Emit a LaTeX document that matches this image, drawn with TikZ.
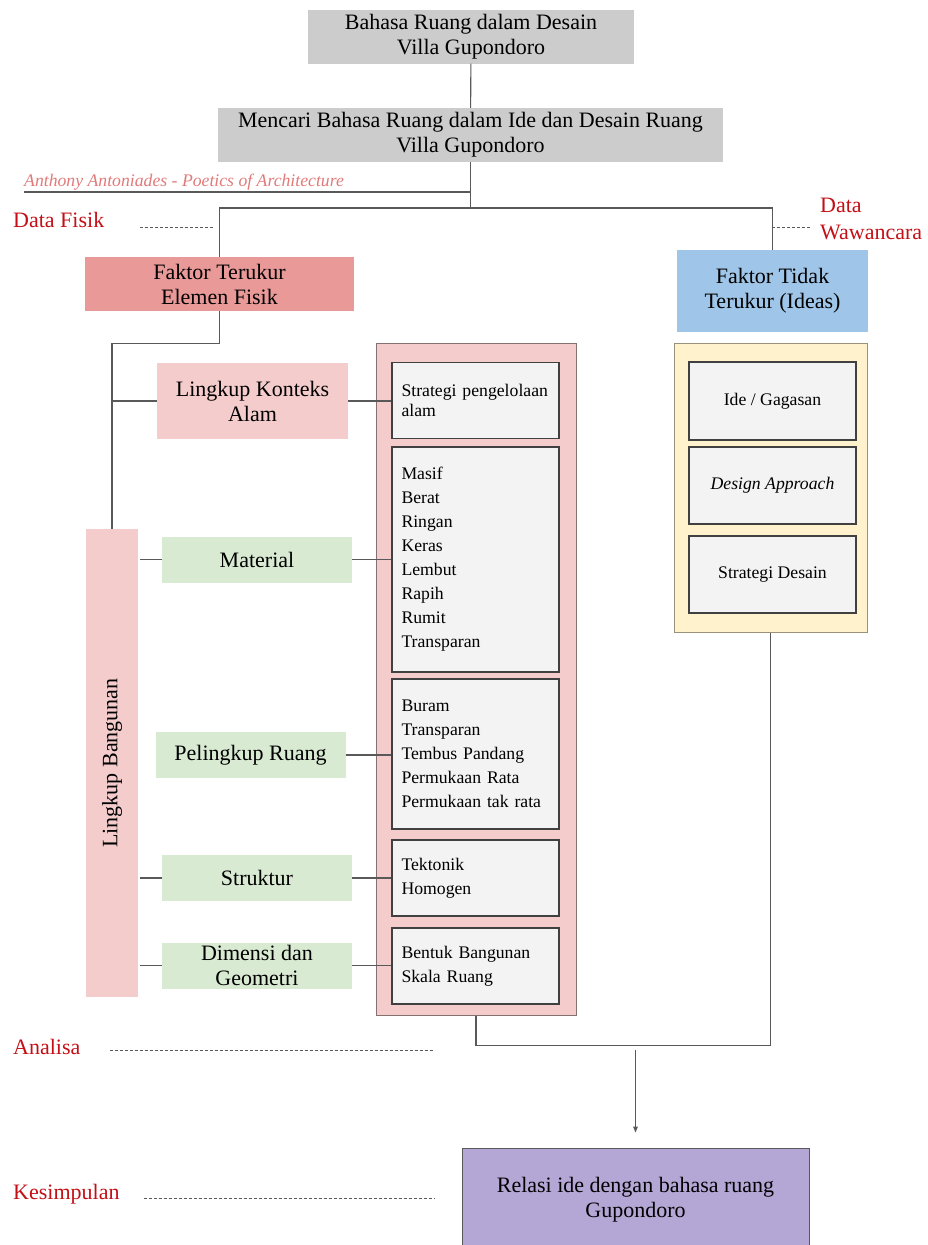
\documentclass[tikz,border=0pt]{standalone}
\usepackage{fontspec}
\setmainfont{Liberation Serif}
\usetikzlibrary{arrows.meta,calc}
\definecolor{titlegray}{HTML}{CCCCCC}
\definecolor{terukurred}{HTML}{EA9999}
\definecolor{softpink}{HTML}{F4CCCC}
\definecolor{softgreen}{HTML}{D9EAD3}
\definecolor{ideablue}{HTML}{9FC5E8}
\definecolor{ideayellow}{HTML}{FFF2CC}
\definecolor{itemgray}{HTML}{F3F3F3}
\definecolor{relasipurple}{HTML}{B4A7D6}
\definecolor{labelred}{HTML}{C40F16}
\definecolor{sourcered}{HTML}{E07A7A}
\definecolor{wiregray}{HTML}{595959}
\begin{document}
\begin{tikzpicture}[x=1pt,y=-1pt,
    big/.style={font=\fontsize{22}{25}\selectfont,align=center,inner sep=0pt},
    small/.style={font=\fontsize{17.7}{24}\selectfont,inner sep=0pt},
    titlebox/.style={big,fill=titlegray},
    branchbox/.style={big,fill=softgreen,minimum width=190,minimum height=46},
    itembox/.style={small,fill=itemgray,draw=black!75,line width=1.4pt,align=left,
      text width=148,inner xsep=9.5pt,minimum height=76},
    ideabox/.style={small,fill=itemgray,draw=black!75,line width=1.4pt,
      minimum width=167,minimum height=77},
    sidelabel/.style={big,text=labelred,anchor=base west,align=left},
    wire/.style={draw=wiregray,line width=1.1pt},
    guide/.style={draw=wiregray,line width=0.8pt,dash pattern=on 3pt off 2pt}]
  \useasboundingbox (0,0) rectangle (928,1245);

  \node[titlebox,minimum width=326,minimum height=54] (judul) at (471,36.5)
    {Bahasa Ruang dalam Desain\\Villa Gupondoro};
  \node[titlebox,minimum width=505,minimum height=54] (cari) at (470.5,135)
    {Mencari Bahasa Ruang dalam Ide dan Desain Ruang\\Villa Gupondoro};
  \node[small,text=sourcered,anchor=base west,font=\fontsize{17.7}{20}\selectfont\itshape]
    (antoniades) at (24,186) {Anthony Antoniades - Poetics of Architecture};

  \node[sidelabel] (fisik) at (13,227) {Data Fisik};
  \node[sidelabel,font=\fontsize{22}{27}\selectfont] (wawancara) at (820,239) {Data\\Wawancara};
  \node[sidelabel] (analisa) at (13,1054) {Analisa};
  \node[sidelabel] (kesimpulan) at (13,1199) {Kesimpulan};

  \node[big,fill=terukurred,minimum width=269,minimum height=54] (terukur) at (219.5,284)
    {Faktor Terukur\\Elemen Fisik};
  \node[big,fill=ideablue,minimum width=191,minimum height=82] (tidak) at (772.5,291)
    {Faktor Tidak\\Terukur (Ideas)};

  \node[big,fill=softpink,minimum width=191,minimum height=76] (konteks) at (252.5,401)
    {Lingkup Konteks\\Alam};
  \node[big,fill=softpink,rotate=90,minimum width=468,minimum height=52] (bangunan)
    at (112,763) {Lingkup Bangunan};
  \node[branchbox] (material) at (257,559.5) {Material};
  \node[branchbox] (pelingkup) at (250.5,755) {Pelingkup Ruang};
  \node[branchbox] (struktur) at (257,878) {Struktur};
  \node[branchbox] (dimensi) at (257,965.5) {Dimensi dan\\Geometri};

  \node[fill=softpink,draw=black!45!softpink,line width=1pt,minimum width=200,minimum height=672]
    (wadah) at (476,679) {};
  \node[itembox,font=\fontsize{17.7}{20}\selectfont] (alam) at (475.5,400.5)
    {Strategi pengelolaan\\alam};
  \node[itembox,minimum height=225] (sifat) at (475.5,559.5)
    {Masif\\Berat\\Ringan\\Keras\\Lembut\\Rapih\\Rumit\\Transparan};
  \node[itembox,minimum height=150] (selubung) at (475.5,754)
    {Buram\\Transparan\\Tembus Pandang\\Permukaan Rata\\Permukaan tak rata};
  \node[itembox] (tektonik) at (475.5,878) {Tektonik\\Homogen};
  \node[itembox] (bentuk) at (475.5,966) {Bentuk Bangunan\\Skala Ruang};

  \node[fill=ideayellow,draw=black!40!ideayellow,line width=1pt,minimum width=193,minimum height=289]
    (ideas) at (770.5,487.5) {};
  \node[ideabox,minimum height=78] (gagasan) at (772.5,401) {Ide / Gagasan};
  \node[ideabox] (approach) at (772.5,485.5) {\itshape Design Approach};
  \node[ideabox] (strategi) at (772.5,574.5) {Strategi Desain};

  \node[big,fill=relasipurple,draw=wiregray,line width=0.8pt,minimum width=347,minimum height=104]
    (relasi) at (635.5,1200) {Relasi ide dengan bahasa ruang\\Gupondoro};

  \coordinate (hub) at (470.5,208);
  \draw[wire] (judul) -- (cari);
  \draw[wire] (cari) -- (hub);
  \draw[wire] (antoniades.base west |- 0,192) -- (cari.south |- 0,192);
  \draw[wire] (terukur.north) |- (hub) -| (tidak.north);
  \draw[wire] (terukur.south) |- ($(terukur.south)+(0,32)$) -| (bangunan.east);
  \draw[wire] (konteks.west -| bangunan.east) -- (konteks.west);
  \foreach \n in {material,struktur,dimensi}
    \draw[wire] ([xshift=2pt]\n.west -| bangunan.south) -- (\n.west);
  \draw[wire] (konteks.east) -- (konteks.east -| alam.west);
  \draw[wire] (material.east) -- (material.east -| sifat.west);
  \draw[wire] (pelingkup.east) -- (pelingkup.east -| selubung.west);
  \draw[wire] (struktur.east) -- (struktur.east -| tektonik.west);
  \draw[wire] (dimensi.east) -- (dimensi.east -| bentuk.west);
  \draw[wire] (ideas.south) |- ($(wadah.south)+(0,30)$) -- (wadah.south);
  \draw[wire,-{Triangle[length=6pt,width=4.5pt]}] ($(relasi.north)+(0,-98)$) -- ($(relasi.north)+(0,-15)$);

  \draw[guide] ($(fisik.base east)+(36,0)$) -- ($(fisik.base east)+(110,0)$);
  \draw[guide] ($(wawancara.base west)+(-48,-12)$) -- ($(wawancara.base west)+(-10,-12)$);
  \draw[guide] ($(analisa.base east)+(29,-4)$) -- ($(analisa.base east)+(352,-4)$);
  \draw[guide] ($(kesimpulan.base east)+(24,-1)$) -- ($(kesimpulan.base east)+(315,-1)$);
\end{tikzpicture}
\end{document}
